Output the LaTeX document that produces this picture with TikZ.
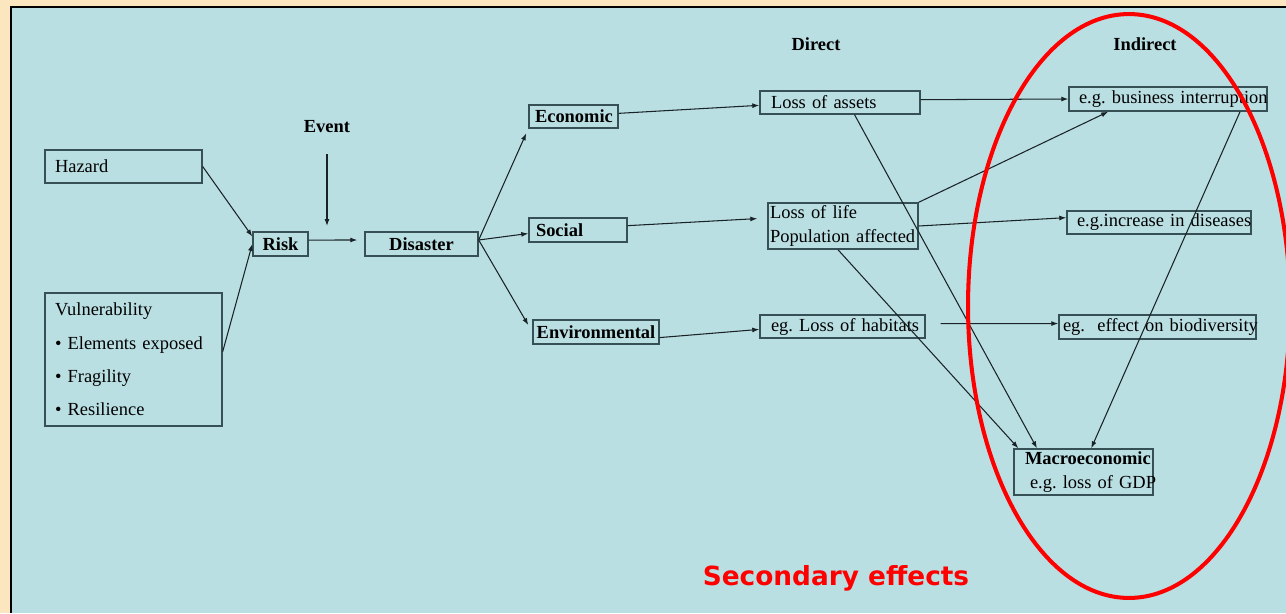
\documentclass[tikz,border=0pt]{standalone}
\usepackage{fontspec}
\setmainfont{Liberation Serif}
\newfontfamily\capfont{DejaVu Sans}
\usetikzlibrary{arrows.meta}
\definecolor{cream}{RGB}{252,230,192}
\definecolor{panel}{RGB}{186,223,227}
\definecolor{boxline}{RGB}{55,80,85}
\definecolor{arrline}{RGB}{25,35,38}
\newcommand\bodysize{\fontsize{10.5}{13.2}\selectfont\frenchspacing}
\tikzset{
  box/.style={draw=boxline, line width=0.8pt, inner ysep=0pt, align=left, font=\bodysize},
  bbox/.style={box, font=\bodysize\bfseries},
  head/.style={font=\bodysize\bfseries, anchor=base},
  arr/.style={draw=arrline, line width=0.6pt, -{Latex[length=1.4mm,width=1mm]}},
}
\begin{document}
\begin{tikzpicture}[x=0.02cm,y=-0.02cm]
\useasboundingbox (0,0) rectangle (1286,613);
\fill[cream] (0,0) rectangle (1286,613);
\fill[panel] (11,7) rectangle (1286,613);
\draw[line width=0.8pt] (11,613) -- (11,7) -- (1286,7);

\node[box, inner xsep=0.2cm, text width=2.74cm, minimum height=0.66cm] (hazard) at (123.5,166.5) {Hazard};
\node[box, inner xsep=0.2cm, text width=3.14cm, minimum height=2.66cm, font=\fontsize{10.5}{19}\selectfont] (vuln) at (133.5,359.5)
  {Vulnerability\\ \textbullet\ Elements exposed\\ \textbullet\ Fragility\\ \textbullet\ Resilience};
\node[bbox, inner xsep=0pt, text width=1.1cm, align=center, minimum height=0.48cm] (risk) at (280.5,244) {Risk};
\node[head] (event) at (327,132.7) {Event};
\coordinate (evtip) at (327,226);
\node[bbox, inner xsep=0pt, text width=2.26cm, align=center, minimum height=0.48cm] (disaster) at (421.5,244) {Disaster};

\node[bbox, inner xsep=0.12cm, text width=1.54cm, minimum height=0.46cm] (econ) at (573.5,116.5) {Economic};
\node[bbox, inner xsep=0.14cm, text width=1.68cm, minimum height=0.48cm] (social) at (578,230) {Social};
\node[bbox, inner xsep=0pt, text width=2.52cm, align=center, minimum height=0.48cm] (envir) at (596,332) {\mbox{Environmental}};

\node[head] (direct) at (816,50) {Direct};
\node[box, inner xsep=0.22cm, text width=2.76cm, minimum height=0.46cm] (assets) at (840,102.5) {\mbox{Loss of assets}};
\node[box, inner xsep=0.04cm, text width=2.92cm, minimum height=0.92cm] (life) at (843,226) {\mbox{Loss of life}\\\mbox{Population affected}};
\node[box, inner xsep=0.22cm, text width=2.86cm, minimum height=0.46cm] (habitats) at (842.5,326.5) {\mbox{eg. Loss of habitats}};

\node[head] (indirect) at (1145,50) {Indirect};
\node[box, inner xsep=0.2cm, text width=3.56cm, minimum height=0.48cm] (business) at (1168,99) {\mbox{e.g. business interruption}};
\node[box, inner xsep=0.2cm, text width=3.28cm, minimum height=0.46cm] (diseases) at (1159,222.5) {\mbox{e.g.increase in diseases}};
\node[box, inner xsep=0.08cm, text width=3.78cm, minimum height=0.48cm] (biodiv) at (1157.5,327) {\mbox{eg.\ \ effect on biodiversity}};
\node[box, inner xsep=0.22cm, text width=2.34cm, minimum height=0.92cm] (macro) at (1083.5,472)
  {\mbox{\textbf{Macroeconomic}}\\\mbox{\hspace*{0.1cm}e.g. loss of GDP}};

\draw[arr] (hazard.east) -- (risk.165);
\draw[arr] (vuln.5) -- (risk.west);
\draw[arr, shorten <=0.3cm] (event.south) -- (evtip);
\draw[arr, shorten >=0.14cm] (risk.8) -- (disaster.176);
\draw[arr, shorten >=0.1cm] (disaster.4) -- (econ.south west);
\draw[arr] (disaster.4) -- (social.184);
\draw[arr, shorten >=0.16cm] (disaster.4) -- (envir.west);
\draw[arr] (econ.4) -- (assets.182);
\draw[arr, shorten >=0.2cm] (social.5) -- (life.174);
\draw[arr] (envir.-5) -- (habitats.182);
\draw[arr] (assets.2) -- (business.west);
\draw[arr] (life.north east) -- (business.192);
\draw[arr] (life.east) -- (diseases.177);
\draw[arr, shorten <=0.3cm] (habitats.2) -- (biodiv.178);
\draw[arr] (assets.-40) -- (macro.153);
\draw[arr] (life.258) -- (macro.160);
\draw[arr] (business.-10) -- (macro.72);

\draw[red, line width=2.3pt] (1129,306) ellipse [x radius=3.22cm, y radius=5.84cm];
\node[text=red, font=\capfont\bfseries\fontsize{15}{18}\selectfont, anchor=base] (secondary) at (836,585) {Secondary effects};
\end{tikzpicture}
\end{document}
